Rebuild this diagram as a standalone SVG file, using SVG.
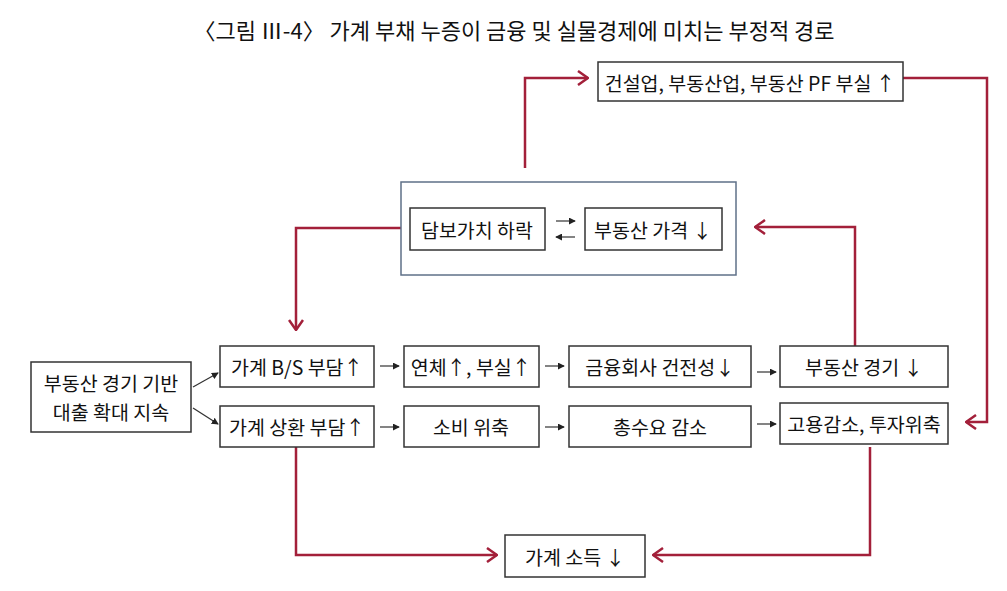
<svg xmlns="http://www.w3.org/2000/svg" width="1007" height="591" viewBox="0 0 1007 591">
<defs>
<style>
.bx{fill:#fff;stroke:#333;stroke-width:1.5}
.t{font-family:"Noto Sans CJK KR","Noto Sans",sans-serif;font-size:19.5px;fill:#111;text-anchor:middle;dominant-baseline:central}
.red{fill:none;stroke:#a3203a;stroke-width:2.5}
.sm{fill:none;stroke:#333;stroke-width:1.2}
</style>
<marker id="ra" viewBox="0 0 12 16" refX="11" refY="8" markerWidth="12" markerHeight="16" markerUnits="userSpaceOnUse" orient="auto">
<path d="M1,1 L11,8 L1,15" fill="none" stroke="#a3203a" stroke-width="2.5"/>
</marker>
<marker id="ka" viewBox="0 0 8 8" refX="7" refY="4" markerWidth="7" markerHeight="7" markerUnits="userSpaceOnUse" orient="auto">
<path d="M0,0 L8,4 L0,8 Z" fill="#222"/>
</marker>
</defs>
<rect width="1007" height="591" fill="#fff"/>
<text x="514" y="29" class="t" style="font-size:22px">〈그림 Ⅲ-4〉 가계 부채 누증이 금융 및 실물경제에 미치는 부정적 경로</text>

<g id="connectors">
<polyline class="red" points="525,168 525,78 588,78" marker-end="url(#ra)"/>
<polyline class="red" points="903,78 987,78 987,422 966,422" marker-end="url(#ra)"/>
<polyline class="red" points="855,346 855,227 755,227" marker-end="url(#ra)"/>
<polyline class="red" points="401,228 296,228 296,330" marker-end="url(#ra)"/>
<polyline class="red" points="296,447 296,555 497,555" marker-end="url(#ra)"/>
<polyline class="red" points="870,447 870,555 653,555" marker-end="url(#ra)"/>
<line class="sm" x1="556" y1="221" x2="575" y2="221" marker-end="url(#ka)"/>
<line class="sm" x1="575" y1="237" x2="556" y2="237" marker-end="url(#ka)"/>
<line class="sm" x1="193" y1="387" x2="218" y2="373" stroke="#666" marker-end="url(#ka)"/>
<line class="sm" x1="193" y1="408" x2="218" y2="424" stroke="#666" marker-end="url(#ka)"/>
<line class="sm" x1="380" y1="366" x2="399" y2="366" marker-end="url(#ka)"/>
<line class="sm" x1="545" y1="366" x2="564" y2="366" marker-end="url(#ka)"/>
<line class="sm" x1="757" y1="372" x2="776" y2="372" marker-end="url(#ka)"/>
<line class="sm" x1="380" y1="427" x2="399" y2="427" marker-end="url(#ka)"/>
<line class="sm" x1="545" y1="427" x2="564" y2="427" marker-end="url(#ka)"/>
<line class="sm" x1="757" y1="424" x2="776" y2="424" marker-end="url(#ka)"/>
</g>

<g id="n-pf"><rect class="bx" x="598" y="62" width="305" height="39"/><text class="t" x="750" y="82">건설업, 부동산업, 부동산 PF 부실 ↑</text></g>
<g id="n-group"><rect x="401" y="182" width="335" height="93" fill="none" stroke="#5f7088" stroke-width="1.5"/></g>
<g id="n-collateral"><rect class="bx" x="410" y="208" width="135" height="42"/><text class="t" x="477" y="229">담보가치 하락</text></g>
<g id="n-price"><rect class="bx" x="585" y="208" width="137" height="42"/><text class="t" x="653" y="229">부동산 가격 ↓</text></g>
<g id="n-loan"><rect class="bx" x="31" y="362" width="160" height="70"/><text class="t" x="111" y="382">부동산 경기 기반</text><text class="t" x="111" y="411">대출 확대 지속</text></g>
<g id="n-bs"><rect class="bx" x="220" y="346" width="154" height="41"/><text class="t" x="297" y="366">가계 B/S 부담↑</text></g>
<g id="n-delinq"><rect class="bx" x="404" y="346" width="135" height="41"/><text class="t" x="471" y="366">연체↑, 부실↑</text></g>
<g id="n-sound"><rect class="bx" x="569" y="346" width="182" height="41"/><text class="t" x="660" y="366">금융회사 건전성↓</text></g>
<g id="n-re"><rect class="bx" x="780" y="346" width="168" height="41"/><text class="t" x="864" y="366">부동산 경기 ↓</text></g>
<g id="n-repay"><rect class="bx" x="220" y="406" width="154" height="41"/><text class="t" x="297" y="426">가계 상환 부담↑</text></g>
<g id="n-cons"><rect class="bx" x="404" y="406" width="135" height="41"/><text class="t" x="471" y="426">소비 위축</text></g>
<g id="n-demand"><rect class="bx" x="569" y="406" width="182" height="41"/><text class="t" x="660" y="426">총수요 감소</text></g>
<g id="n-emp"><rect class="bx" x="780" y="403" width="168" height="41"/><text class="t" x="864" y="423">고용감소, 투자위축</text></g>
<g id="n-income"><rect class="bx" x="505" y="535" width="140" height="42"/><text class="t" x="575" y="556">가계 소득 ↓</text></g>
</svg>
